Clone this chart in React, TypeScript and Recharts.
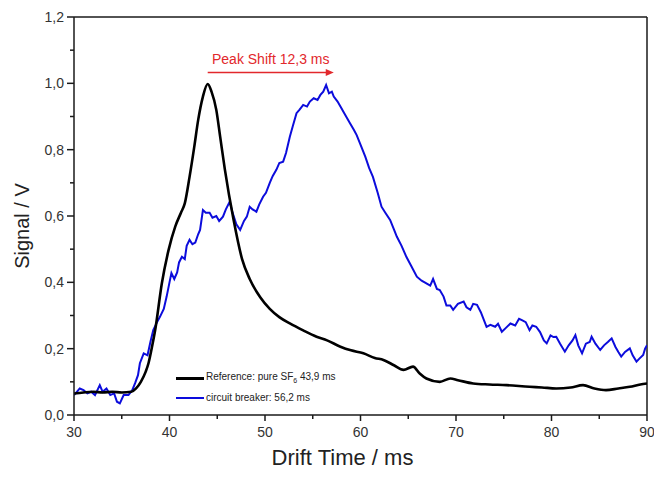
import { LineChart, Line, XAxis, YAxis, ReferenceLine } from 'recharts';

// Reference: pure SF6 (black)
const refTime = [
    30, 31, 32, 33, 34, 35, 36, 36.5, 37, 37.5, 37.8, 38.2, 38.5, 39.2, 39.9, 40.6, 41.2, 41.6, 42.1, 42.6,
    43.0, 43.5, 44.0, 44.4, 44.9, 45.3, 45.8, 46.7, 47.6, 48.4, 49.5, 50.5, 51.5, 52.6, 54, 55.4, 56.5, 57.9,
    59, 60.3, 61.5, 62.4, 63.5, 64.5, 65.5, 66.2, 66.9, 68.3, 69.4, 70.2, 71.8, 73.5, 75.3, 77.7, 79, 80.5,
    82, 83.3, 84.5, 85.7, 87, 88.2, 89.3, 90,
];
const refSignal = [
    0.065, 0.068, 0.07, 0.068, 0.07, 0.068, 0.07, 0.08, 0.1, 0.13, 0.156, 0.21, 0.256, 0.397, 0.497, 0.568, 0.61, 0.638, 0.718, 0.81,
    0.889, 0.96, 0.998, 0.975, 0.92, 0.84, 0.74, 0.59, 0.47, 0.41, 0.355, 0.32, 0.295, 0.276, 0.255, 0.236, 0.225, 0.206,
    0.195, 0.186, 0.172, 0.166, 0.15, 0.136, 0.146, 0.125, 0.11, 0.1, 0.11, 0.105, 0.095, 0.092, 0.09, 0.085, 0.083, 0.08,
    0.083, 0.09, 0.08, 0.075, 0.08, 0.085, 0.092, 0.095,
];

// circuit breaker (blue)
const cbTime = [
    30, 30.3, 30.6, 31, 31.4, 31.8, 32.2, 32.7, 33, 33.4, 33.8, 34.2, 34.5, 34.8, 35.2, 35.7, 36.1, 36.4, 36.7, 36.9,
    37.3, 37.7, 38.0, 38.3, 38.7, 39.0, 39.4, 39.7, 40.0, 40.2, 40.5, 40.8, 41.0, 41.3, 41.6, 41.8, 42.1, 42.4, 42.7, 43.0,
    43.2, 43.5, 43.8, 44.2, 44.5, 44.9, 45.2, 45.6, 45.9, 46.3, 46.6, 47.0, 47.4, 47.8, 48.1, 48.4, 48.7, 49.1, 49.4, 49.8,
    50.1, 50.5, 50.8, 51.2, 51.5, 51.9, 52.2, 52.6, 52.9, 53.3, 53.6, 54.0, 54.4, 54.7, 55.1, 55.5, 55.8, 56.1, 56.4, 56.7,
    57.0, 57.2, 57.6, 57.9, 58.3, 58.6, 58.9, 59.3, 59.6, 60.0, 60.5, 60.9, 61.3, 61.8, 62.2, 62.6, 63.1, 63.5, 63.8, 64.3,
    64.8, 65.3, 65.9, 66.4, 66.9, 67.3, 67.6, 68.0, 68.3, 68.7, 69.0, 69.4, 69.7, 70.2, 70.8, 71.1, 71.5, 71.8, 72.2, 72.6,
    73.2, 73.6, 74.1, 74.4, 74.8, 75.2, 75.7, 76.2, 76.6, 76.9, 77.3, 77.7, 78.0, 78.4, 78.8, 79.2, 79.5, 79.9, 80.2, 80.5,
    80.9, 81.4, 81.8, 82.2, 82.5, 82.8, 83.2, 83.6, 84.0, 84.2, 84.6, 85.1, 85.5, 85.9, 86.3, 86.7, 87.0, 87.3, 87.7, 88.2,
    88.5, 88.9, 89.2, 89.6, 89.8, 90,
];
const cbSignal = [
    0.06, 0.07, 0.08, 0.075, 0.065, 0.07, 0.06, 0.09, 0.07, 0.08, 0.06, 0.065, 0.04, 0.035, 0.06, 0.06, 0.075, 0.096, 0.12, 0.156,
    0.186, 0.18, 0.22, 0.256, 0.28, 0.296, 0.32, 0.357, 0.4, 0.428, 0.41, 0.43, 0.46, 0.477, 0.47, 0.51, 0.528, 0.515, 0.52, 0.545,
    0.558, 0.618, 0.61, 0.61, 0.595, 0.6, 0.585, 0.598, 0.62, 0.643, 0.61, 0.575, 0.558, 0.585, 0.598, 0.628, 0.62, 0.613, 0.635, 0.658,
    0.67, 0.7, 0.72, 0.74, 0.76, 0.764, 0.79, 0.839, 0.87, 0.91, 0.92, 0.935, 0.93, 0.945, 0.955, 0.95, 0.965, 0.975, 0.995, 0.97,
    0.975, 0.96, 0.945, 0.93, 0.91, 0.895, 0.88, 0.86, 0.844, 0.815, 0.779, 0.745, 0.718, 0.67, 0.628, 0.61, 0.588, 0.56, 0.538, 0.51,
    0.477, 0.45, 0.417, 0.405, 0.397, 0.39, 0.41, 0.38, 0.377, 0.357, 0.33, 0.33, 0.317, 0.335, 0.342, 0.325, 0.317, 0.335, 0.332, 0.31,
    0.266, 0.272, 0.266, 0.275, 0.251, 0.262, 0.276, 0.27, 0.29, 0.286, 0.28, 0.256, 0.27, 0.266, 0.25, 0.225, 0.216, 0.24, 0.235, 0.236,
    0.215, 0.191, 0.21, 0.225, 0.241, 0.21, 0.186, 0.215, 0.22, 0.236, 0.215, 0.196, 0.21, 0.22, 0.231, 0.205, 0.19, 0.176, 0.19, 0.201,
    0.18, 0.161, 0.17, 0.181, 0.2, 0.21,
];

const xTicks = [30, 35, 40, 45, 50, 55, 60, 65, 70, 75, 80, 85, 90];
const yTicks = [0, 0.1, 0.2, 0.3, 0.4, 0.5, 0.6, 0.7, 0.8, 0.9, 1.0, 1.1, 1.2];

// peak shift annotation (arrow from reference peak to breaker peak)
const shiftLabel = 'Peak Shift 12,3 ms';
const arrowFrom = 44.0;
const arrowTo = 57.2;
const arrowLevel = 1.033;

const refData = refTime.map((t, i) => ({ t, v: refSignal[i] }));
const cbData = cbTime.map((t, i) => ({ t, v: cbSignal[i] }));

const FONT = '"Liberation Sans", Arial, sans-serif';
const AXIS = '#1a1a1a';
const BLUE = '#0c0cdc';
const RED = '#e2282c';

const fmt = (v: number) => v.toFixed(1).replace('.', ',');

function YTick({ x, y, payload }: any) {
    const v = payload.value;
    const major = Math.round(v * 10) % 2 === 0;
    return (
        <g>
            <line x1={x} x2={x - (major ? 7 : 4)} y1={y} y2={y} stroke={AXIS} strokeWidth={1.5} />
            {major && (
                <text x={x - 10} y={y} dy="0.36em" textAnchor="end" fontSize={14} fill="#333" fontFamily={FONT}>
                    {fmt(v)}
                </text>
            )}
        </g>
    );
}

function XTick({ x, y, payload }: any) {
    const v = payload.value;
    const major = v % 10 === 0;
    return (
        <g>
            <line x1={x} x2={x} y1={y} y2={y + (major ? 6 : 4)} stroke={AXIS} strokeWidth={1.5} />
            {major && (
                <text x={x} y={y + 12} dy="0.71em" textAnchor="middle" fontSize={14} fill="#333" fontFamily={FONT}>
                    {v}
                </text>
            )}
        </g>
    );
}

function Arrow(props: any) {
    const { x1, y1, x2, y2 } = props;
    return (
        <g>
            <line x1={x1} y1={y1} x2={x2 - 5} y2={y2} stroke={RED} strokeWidth={1.5} />
            <polygon points={`${x2},${y2} ${x2 - 8},${y2 - 3.5} ${x2 - 8},${y2 + 3.5}`} fill={RED} />
        </g>
    );
}

export default function App() {
    return (
        <div style={{ position: 'absolute', left: 0, top: 0, width: 654, height: 479, background: '#fff' }}>
            <LineChart width={654} height={479} margin={{ top: 17, right: 7, left: 24, bottom: 34 }}>
                <XAxis
                    type="number"
                    dataKey="t"
                    domain={[30, 90]}
                    ticks={xTicks}
                    interval={0}
                    allowDataOverflow
                    height={30}
                    tickSize={0}
                    tickMargin={0}
                    tickLine={false}
                    tick={<XTick />}
                    axisLine={{ stroke: AXIS, strokeWidth: 1.5 }}
                    label={{
                        content: ({ viewBox }: any) => (
                            <text
                                x={viewBox.x + viewBox.width / 2 - 18}
                                y={viewBox.y + 50}
                                textAnchor="middle"
                                fontSize={22}
                                fill="#222"
                                fontFamily={FONT}
                            >
                                Drift Time / ms
                            </text>
                        ),
                    }}
                />
                <YAxis
                    type="number"
                    domain={[0, 1.2]}
                    ticks={yTicks}
                    interval={0}
                    allowDataOverflow
                    width={50}
                    tickSize={0}
                    tickMargin={0}
                    tickLine={false}
                    tick={<YTick />}
                    axisLine={{ stroke: AXIS, strokeWidth: 1.5 }}
                    label={{
                        content: ({ viewBox }: any) => {
                            const cx = viewBox.x - 2;
                            const cy = viewBox.y + viewBox.height / 2 + 10;
                            return (
                                <text
                                    x={cx}
                                    y={cy}
                                    transform={`rotate(-90 ${cx} ${cy})`}
                                    textAnchor="middle"
                                    dominantBaseline="central"
                                    fontSize={20}
                                    fill="#222"
                                    fontFamily={FONT}
                                >
                                    Signal / V
                                </text>
                            );
                        },
                    }}
                />
                <ReferenceLine y={1.2} stroke={AXIS} strokeWidth={1.5} />
                <ReferenceLine x={90} stroke={AXIS} strokeWidth={1.5} />
                <Line
                    data={cbData}
                    dataKey="v"
                    type="linear"
                    stroke={BLUE}
                    strokeWidth={2}
                    dot={false}
                    isAnimationActive={false}
                />
                <Line
                    data={refData}
                    dataKey="v"
                    type="monotone"
                    stroke="#000"
                    strokeWidth={2.6}
                    dot={false}
                    isAnimationActive={false}
                />
                <ReferenceLine
                    segment={[{ x: arrowFrom, y: arrowLevel }, { x: arrowTo, y: arrowLevel }]}
                    shape={<Arrow />}
                    label={{ value: shiftLabel, position: 'top', offset: 8, fill: RED, fontSize: 14, fontFamily: FONT }}
                />
            </LineChart>

            {/* in-plot legend */}
            <div style={{ position: 'absolute', left: 176, top: 368, fontFamily: FONT, fontSize: 10, color: '#222', lineHeight: '17px' }}>
                <div style={{ display: 'flex', alignItems: 'center' }}>
                    <span style={{ display: 'inline-block', width: 28, height: 3, background: '#000', marginRight: 2 }} />
                    <span>Reference: pure SF<sub style={{ fontSize: 7 }}>6</sub> 43,9 ms</span>
                </div>
                <div style={{ display: 'flex', alignItems: 'center' }}>
                    <span style={{ display: 'inline-block', width: 28, height: 2, background: BLUE, marginRight: 2 }} />
                    <span>circuit breaker: 56,2 ms</span>
                </div>
            </div>
        </div>
    );
}
